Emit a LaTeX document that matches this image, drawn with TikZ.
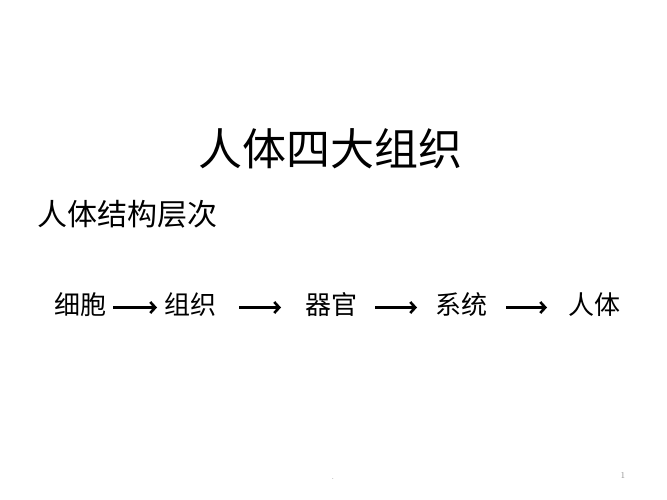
\documentclass[tikz,border=0pt]{standalone}
\usepackage{fontspec}
\newfontfamily\cjk{Noto Sans CJK SC}
\usetikzlibrary{arrows.meta}
\begin{document}
\begin{tikzpicture}[x=1bp,y=-1bp,
  txt/.style={inner sep=0pt, font=\cjk, text=black},
  title/.style={txt, font=\cjk\fontsize{44bp}{48bp}\selectfont},
  subtitle/.style={txt, font=\cjk\fontsize{30bp}{34bp}\selectfont},
  item/.style={txt, font=\cjk\fontsize{26bp}{30bp}\selectfont},
  arr/.style={line width=2.6bp, -{Straight Barb[length=5bp,width=11bp,line width=2.6bp]}},
  foot/.style={inner sep=0pt, font=\fontsize{9bp}{10bp}\selectfont, text=black!45}
]
\useasboundingbox (0,0) rectangle (667,500);
\fill[white] (0,0) rectangle (667,500);
\node[title] (t) at (330.5,149) {人体四大组织};
\node[subtitle] (s) at (127.5,214.5) {人体结构层次};
\node[item] (a) at (80,305) {细胞};
\node[item] (b) at (190,305) {组织};
\node[item] (c) at (331,305) {器官};
\node[item] (d) at (461,305) {系统};
\node[item] (e) at (594.5,305) {人体};
\coordinate (a1s) at (113,307.5); \coordinate (a1e) at (157,307.5);
\coordinate (a2s) at (239,307.5); \coordinate (a2e) at (281,307.5);
\coordinate (a3s) at (375,307.5); \coordinate (a3e) at (417,307.5);
\coordinate (a4s) at (506,307.5); \coordinate (a4e) at (547,307.5);
\draw[arr] (a1s) -- (a1e);
\draw[arr] (a2s) -- (a2e);
\draw[arr] (a3s) -- (a3e);
\draw[arr] (a4s) -- (a4e);
\node[foot] (dot) at (333,479) {.};
\node[foot] (pg) at (623,475) {1};
\end{tikzpicture}
\end{document}
